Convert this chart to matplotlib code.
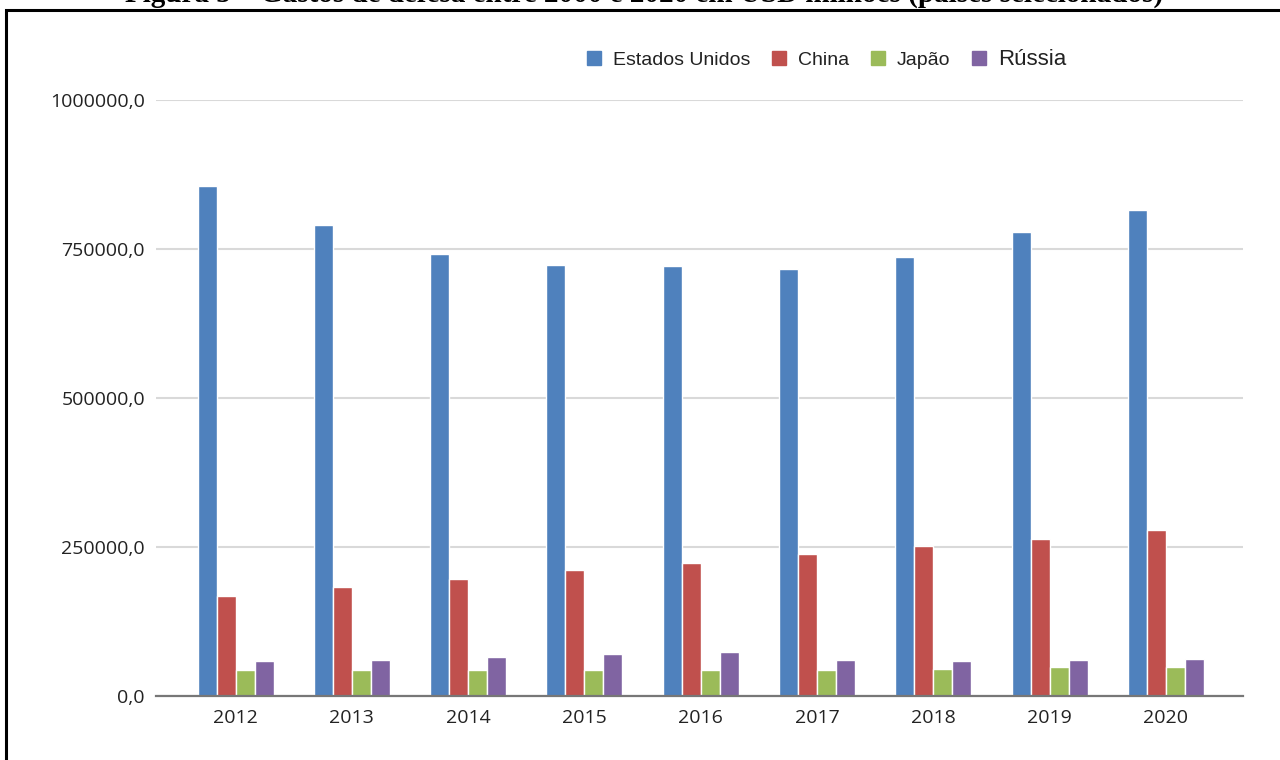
import matplotlib
matplotlib.use("Agg")
import matplotlib.pyplot as plt
import numpy as np
from matplotlib.patches import Rectangle
from matplotlib.lines import Line2D

# Dados (USD milhões)
anos = ["2012", "2013", "2014", "2015", "2016", "2017", "2018", "2019", "2020"]
estados_unidos = [855700, 791000, 741600, 723100, 721500, 716400, 736500, 778500, 815400]
china = [167800, 182900, 196300, 211400, 223200, 238300, 251700, 263400, 278500]
japao = [44300, 44300, 44300, 44300, 44300, 44300, 46500, 48700, 48700]
russia = [58700, 60400, 65400, 70500, 73800, 60400, 58700, 60400, 62100]

paises = ["Estados Unidos", "China", "Japão", "Rússia"]
cores = ["#4f81bd", "#c0504d", "#9bbb59", "#8064a2"]
series = [estados_unidos, china, japao, russia]

fig = plt.figure(figsize=(12.8, 7.6), dpi=100)
ax = fig.add_axes([0.1219, 0.0836, 0.8492, 0.7849])

x = np.arange(len(anos))
passo = 0.1635
for i, (vals, cor) in enumerate(zip(series, cores)):
    ax.bar(x + (i - 1.5) * passo, vals, width=passo, color=cor,
           edgecolor="white", linewidth=1.0, zorder=3)

ax.set_ylim(0, 1000000)
ax.set_xlim(-0.684, 8.663)
ax.set_yticks([0, 250000, 500000, 750000, 1000000])
ax.set_yticklabels(["0,0", "250000,0", "500000,0", "750000,0", "1000000,0"])
ax.set_xticks(x)
ax.set_xticklabels(anos)
for lbl in ax.get_xticklabels() + ax.get_yticklabels():
    lbl.set_fontfamily("Open Sans")
    lbl.set_fontsize(14)
    lbl.set_color("#222222")
ax.tick_params(axis="y", length=0, pad=8)
ax.tick_params(axis="x", length=0, pad=9)

ax.grid(axis="y", color="#d9d9d9", linewidth=1.5, zorder=0)
for s in ["top", "right", "left"]:
    ax.spines[s].set_visible(False)
ax.spines["bottom"].set_color("#777777")
ax.spines["bottom"].set_linewidth(1.6)
ax.spines["bottom"].set_zorder(4)

# legenda
handles = [Line2D([], [], marker="s", linestyle="none", markersize=10,
                  markerfacecolor=c, markeredgecolor=c) for c in cores]
leg = fig.legend(handles, paises, loc="center", bbox_to_anchor=(0.6455, 0.9215),
                 ncol=4, frameon=False, handlelength=0.8, handletextpad=0.55,
                 columnspacing=1.1, prop={"family": "Liberation Sans", "size": 14})
for t in leg.get_texts():
    t.set_color("#222222")
leg.get_texts()[3].set_fontsize(16)

# moldura e título (cortado no topo)
fig.patches.append(Rectangle((6 / 1280, -0.1), 1.2, (750 / 760) + 0.1,
                             transform=fig.transFigure, fill=False,
                             edgecolor="black", linewidth=2.2))
fig.text(0.503, 758.5 / 760,
         "Figura 5 – Gastos de defesa entre 2000 e 2020 em USD milhões (países selecionados)",
         ha="center", va="baseline", fontsize=21, fontweight="bold",
         family="Liberation Serif")

fig.savefig("out.png", dpi=100)
